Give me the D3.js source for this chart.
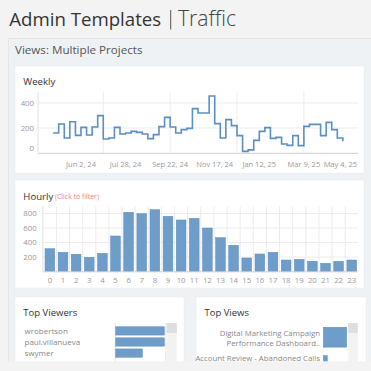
<!DOCTYPE html>
<html><head><meta charset="utf-8">
<script src="https://cdn.jsdelivr.net/npm/d3@7"></script>
<style>
html,body{margin:0;padding:0;background:#f3f3f3;overflow:hidden;}
svg{display:block;font-family:"Open Sans","Noto Sans",sans-serif;}
</style></head><body>
<svg id="c" width="371" height="371"></svg>
<script>
// ---------------- DATA ----------------
const weekStart = "2024-04-28";
const weeklyViews = [160,232,120,250,141,205,144,208,299,112,120,205,152,160,173,165,152,115,147,211,285,208,160,187,197,355,320,320,456,235,120,267,219,139,13,25,101,173,203,117,125,72,61,139,59,213,229,229,139,245,187,120,93];
const weeklyTickDates = ["2024-06-02","2024-07-28","2024-09-22","2024-11-17","2025-01-12","2025-03-09","2025-05-04"];
const weeklyGridDates = ["2024-06-30","2024-09-22","2024-12-15","2025-03-09"];
const weeklyYTicks = [0,200,400];
const hours = [0,1,2,3,4,5,6,7,8,9,10,11,12,13,14,15,16,17,18,19,20,21,22,23];
const hourlyViews = [316,266,239,197,252,491,818,799,854,763,712,735,601,468,363,188,243,266,160,170,142,114,142,160];
const hourlyYTicks = [200,400,600,800];
const topViewers = ["wrobertson","paul.villanueva","swymer"];
const topViewerCounts = [100,100,55];
const topViews = [["Digital Marketing Campaign","Performance Dashboard.."],["Account Review - Abandoned Calls"]];
const topViewCounts = [100,17];

// ---------------- STYLE ----------------
const BLUE = "#6f9dca", BLUE_EDGE = "#5a8cc0", LINE = "#5b8fc4";
const svg = d3.select("#c");
const parse = d3.timeParse("%Y-%m-%d");

function fitText(sel, w){ // scale font-size so the text width matches w
  const n = sel.node(); const fs = parseFloat(sel.attr("font-size"));
  const cw = n.getComputedTextLength(); if (cw>0) sel.attr("font-size", fs*w/cw);
  return sel;
}

// page + panel
svg.append("rect").attr("width",371).attr("height",371).attr("fill","#f3f3f3");
const t1 = svg.append("text").attr("x",9.3).attr("y",26).attr("font-size",20).attr("fill","#333").text("Admin Templates");
fitText(t1,152);
svg.append("line").attr("x1",170.7).attr("x2",170.7).attr("y1",10).attr("y2",29.5).attr("stroke","#555").attr("stroke-width",1);
const t2 = svg.append("text").attr("x",178).attr("y",26).attr("font-size",20).attr("font-weight",300).attr("fill","#444").text("Traffic");
fitText(t2,58);

svg.append("rect").attr("x",8.5).attr("y",38.5).attr("width",370).attr("height",330).attr("fill","#eef2f4").attr("stroke","#e2e6e9");
fitText(svg.append("text").attr("x",15).attr("y",54).attr("font-size",11).attr("fill","#555").text("Views: Multiple Projects"),127.5);

function card(x,y,w,h){ svg.append("rect").attr("x",x).attr("y",y).attr("width",w).attr("height",h).attr("fill","#fff").attr("stroke","#e9ecee").attr("stroke-width",0.5); }
card(15,66,349,107);
card(15,180,349,108);
card(15,297,169,80);
card(196,297,170,80);

// ---------------- WEEKLY ----------------
fitText(svg.append("text").attr("x",23.3).attr("y",85).attr("font-size",11.5).attr("fill","#333").text("Weekly"),32);
const w0 = parse(weekStart);
const weekly = weeklyViews.map((v,i)=>({d:d3.timeWeek.offset(w0,i), v}));
const wx = d3.scaleTime().domain([parse("2024-04-09"),parse("2025-05-16")]).range([38,358]);
const wy = d3.scaleLinear().domain([0,490]).range([153,91.7]);
const wg = svg.append("g");
wg.selectAll(".hg").data(weeklyYTicks.filter(d=>d>0)).join("line")
  .attr("x1",38).attr("x2",358).attr("y1",d=>wy(d)).attr("y2",d=>wy(d)).attr("stroke","#ececec");
wg.selectAll(".vg").data(weeklyGridDates.map(parse)).join("line")
  .attr("x1",d=>wx(d)).attr("x2",d=>wx(d)).attr("y1",wy.range()[1]).attr("y2",153).attr("stroke","#ececec");
wg.append("line").attr("x1",38).attr("x2",38).attr("y1",91.7).attr("y2",153).attr("stroke","#e2e2e2");
wg.append("line").attr("x1",38).attr("x2",358).attr("y1",153.3).attr("y2",153.3).attr("stroke","#cfcfcf").attr("stroke-width",1);
wg.selectAll(".yl").data(weeklyYTicks).join("text")
  .attr("x",34).attr("y",d=>Math.min(wy(d),148)+2.8).attr("text-anchor","end")
  .attr("font-size",7.8).attr("fill","#999").text(d=>d);
const wfmt = d3.timeFormat("%b %-d, %y");
wg.selectAll(".xl").data(weeklyTickDates.map(parse)).join("text")
  .attr("x",d=>wx(d)).attr("y",167).attr("text-anchor","middle")
  .attr("font-size",7.5).attr("fill","#999").text(d=>wfmt(d))
  .each(function(d){ const len=this.getComputedTextLength(); const x=wx(d);
    if (x+len/2>357) d3.select(this).attr("text-anchor","end").attr("x",357); });
wg.append("path").datum(weekly)
  .attr("d", d3.line().x(d=>wx(d.d)).y(d=>wy(d.v)).curve(d3.curveStepAfter))
  .attr("fill","none").attr("stroke",LINE).attr("stroke-width",1.6);

// ---------------- HOURLY ----------------
const ht = svg.append("text").attr("x",23.3).attr("y",199.5).attr("font-size",11.5).attr("fill","#333").text("Hourly");
fitText(ht,30);
fitText(svg.append("text").attr("x",55).attr("y",199).attr("font-size",7.5).attr("fill","#f07e7e").text("(Click to filter)"),44);
const hx = d3.scaleBand().domain(hours).range([43.3,358.3]).paddingInner(0.26).paddingOuter(0.13);
const hy = d3.scaleLinear().domain([0,895]).range([271.6,206.7]);
const hg = svg.append("g");
hg.selectAll(".hg").data(hourlyYTicks).join("line")
  .attr("x1",43).attr("x2",358.3).attr("y1",d=>hy(d)).attr("y2",d=>hy(d)).attr("stroke","#ececec");
hg.selectAll(".vg").data(hours.slice(1)).join("line")
  .attr("x1",d=>hx(d)-hx.step()*hx.paddingInner()/2).attr("x2",d=>hx(d)-hx.step()*hx.paddingInner()/2)
  .attr("y1",206.7).attr("y2",271.6).attr("stroke","#ececec");
hg.append("line").attr("x1",42.8).attr("x2",42.8).attr("y1",206.7).attr("y2",271.6).attr("stroke","#e2e2e2");
hg.selectAll(".bar").data(hours).join("rect")
  .attr("x",d=>hx(d)).attr("width",hx.bandwidth())
  .attr("y",(d,i)=>hy(hourlyViews[i])).attr("height",(d,i)=>hy(0)-hy(hourlyViews[i]))
  .attr("fill",BLUE).attr("stroke",BLUE_EDGE).attr("stroke-width",0.5);
hg.append("line").attr("x1",43).attr("x2",358.3).attr("y1",271.8).attr("y2",271.8).attr("stroke","#cfcfcf");
hg.selectAll(".yl").data(hourlyYTicks).join("text")
  .attr("x",36.7).attr("y",d=>hy(d)+2.8).attr("text-anchor","end")
  .attr("font-size",7.8).attr("fill","#999").text(d=>d);
hg.selectAll(".xl").data(hours).join("text")
  .attr("x",d=>hx(d)+hx.bandwidth()/2).attr("y",283).attr("text-anchor","middle")
  .attr("font-size",7.8).attr("fill","#999").text(d=>d);

// ---------------- TOP VIEWERS ----------------
fitText(svg.append("text").attr("x",23.3).attr("y",316.3).attr("font-size",11.5).attr("fill","#333").text("Top Viewers"),54);
const vy = d3.scaleBand().domain(topViewers).range([324,360]).padding(0.25);
const vx = d3.scaleLinear().domain([0,d3.max(topViewerCounts)]).range([115.7,164.3]);
svg.append("rect").attr("x",166.7).attr("y",323).attr("width",10).attr("height",45).attr("fill","#f2f2f2");
svg.append("rect").attr("x",166.7).attr("y",323).attr("width",10).attr("height",10).attr("fill","#dedede");
svg.append("line").attr("x1",115.3).attr("x2",115.3).attr("y1",323).attr("y2",368).attr("stroke","#e4e4e4");
svg.append("line").attr("x1",165.8).attr("x2",165.8).attr("y1",323).attr("y2",368).attr("stroke","#e4e4e4");
svg.selectAll(".vb").data(topViewers).join("rect")
  .attr("x",vx(0)).attr("y",d=>vy(d)).attr("height",vy.bandwidth())
  .attr("width",(d,i)=>vx(topViewerCounts[i])-vx(0))
  .attr("fill",BLUE).attr("stroke",BLUE_EDGE).attr("stroke-width",0.5);
svg.selectAll(".vl").data(topViewers).join("text")
  .attr("x",24.5).attr("y",d=>vy(d)+vy.bandwidth()/2+2.8)
  .attr("font-size",8).attr("fill","#888").text(d=>d);

// ---------------- TOP VIEWS ----------------
fitText(svg.append("text").attr("x",204.5).attr("y",316.3).attr("font-size",11.5).attr("fill","#333").text("Top Views"),44.5);
const ty = d3.scaleBand().domain(d3.range(topViews.length)).range([323,379.8]).paddingInner(0.3).paddingOuter(0.15);
const tx = d3.scaleLinear().domain([0,d3.max(topViewCounts)]).range([323.3,346.7]);
svg.append("rect").attr("x",348.3).attr("y",323).attr("width",9.4).attr("height",45).attr("fill","#f2f2f2");
svg.append("rect").attr("x",348.3).attr("y",323).attr("width",9.4).attr("height",10).attr("fill","#dedede");
svg.selectAll(".tb").data(topViewCounts).join("rect")
  .attr("x",tx(0)).attr("y",(d,i)=>ty(i)).attr("height",ty.bandwidth())
  .attr("width",d=>tx(d)-tx(0))
  .attr("fill",BLUE).attr("stroke",BLUE_EDGE).attr("stroke-width",0.5);
topViews.forEach((lines,i)=>{
  const top = ty(i);
  const off = lines.length>1 ? 5.7 : 3;
  lines.forEach((s,j)=>{
    svg.append("text").attr("x",320).attr("y",top+off+j*10+2.8)
      .attr("text-anchor","end").attr("font-size",7.8).attr("fill","#888").text(s);
  });
});

// bottom page band (clip)
svg.append("rect").attr("x",0).attr("y",361.3).attr("width",371).attr("height",10).attr("fill","#f3f3f3");
</script>
</body></html>
